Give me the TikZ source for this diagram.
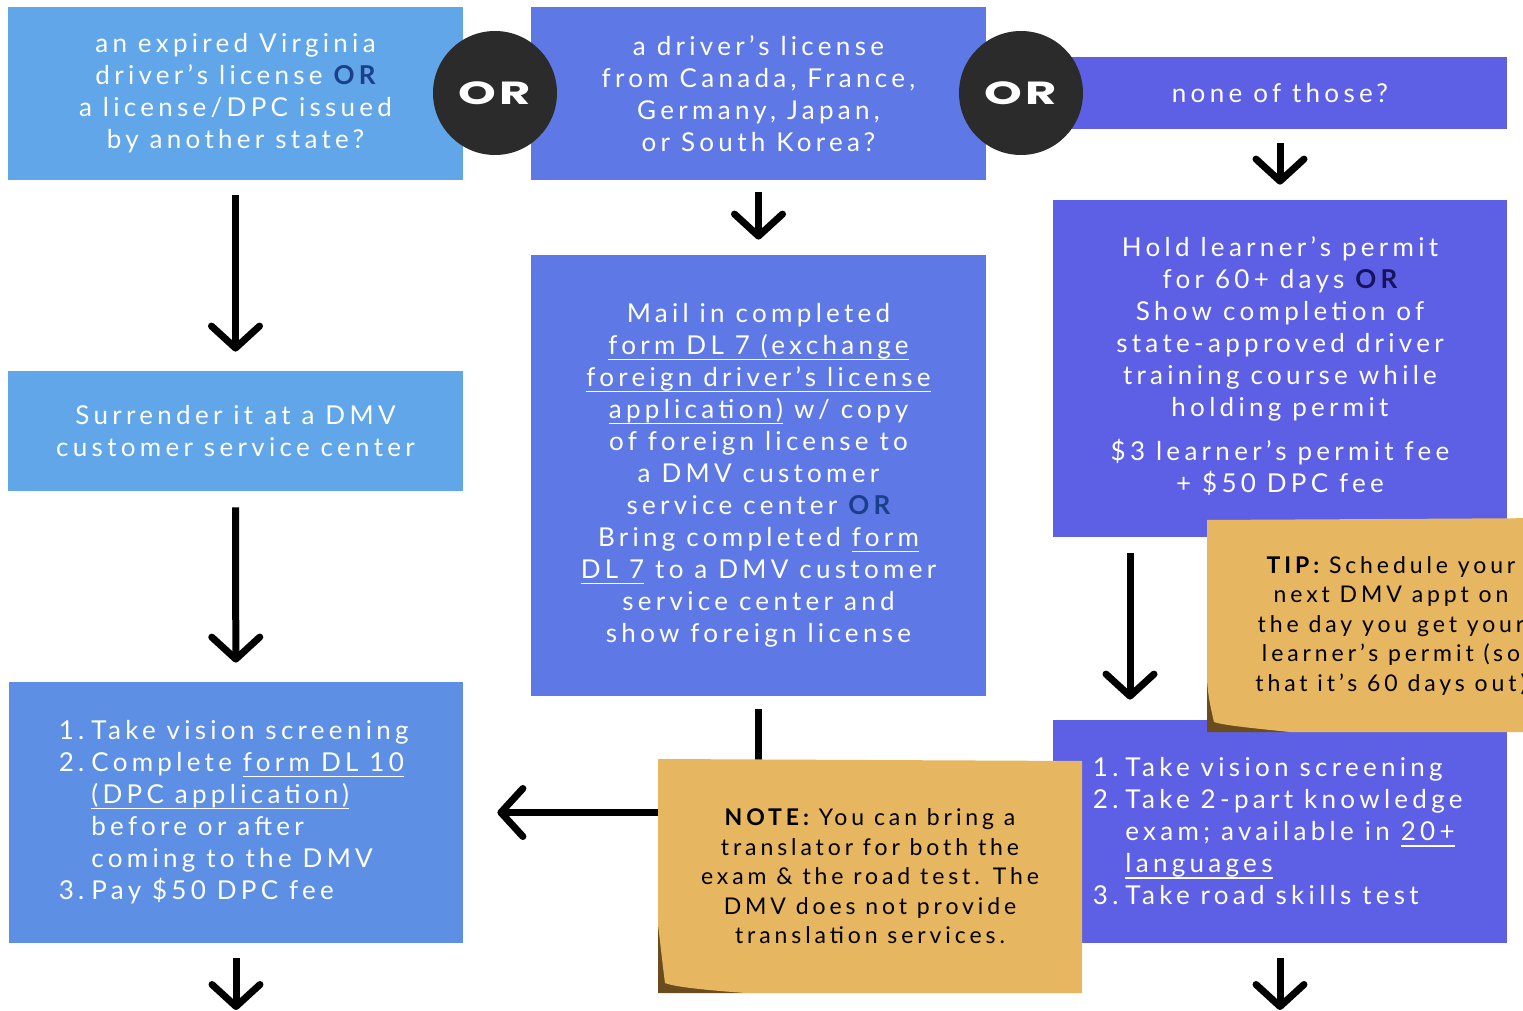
\documentclass[tikz,border=0pt]{standalone}
\usepackage{fontspec}
\setmainfont{Lato}[LetterSpace=16.5]
\newfontfamily\orfont{Poppins}[LetterSpace=10,FakeStretch=1.5]
\newsavebox\ulbox
\newcommand\uline[1]{\sbox\ulbox{#1}\rlap{\rule[-2.8pt]{\wd\ulbox}{0.8pt}}\usebox\ulbox}
\usetikzlibrary{arrows.meta}
\definecolor{lb}{HTML}{61A6E8}
\definecolor{lbb}{HTML}{5D8FE5}
\definecolor{mb}{HTML}{5E79E6}
\definecolor{rb}{HTML}{5D60E5}
\definecolor{notec}{HTML}{E6B660}
\definecolor{foldc}{HTML}{6B4C1E}
\definecolor{circc}{HTML}{2B2B2B}
\definecolor{orblue}{HTML}{1B3F8B}
\definecolor{ornavy}{HTML}{15145C}
\newcommand\orb{{\bfseries\color{orblue}OR}}
\newcommand\orn{{\bfseries\color{ornavy}OR}}
\newcommand\numb[1]{\makebox[14pt][r]{#1\hspace{3.5pt}}}
\begin{document}
\begin{tikzpicture}[x=0.5pt,y=-0.5pt,
  box/.style={inner sep=0pt, text=white, align=center,
    font=\fontsize{13}{16}\selectfont},
  circ/.style={circle, fill=circc, minimum size=62pt, inner sep=0pt, text=white,
    font=\orfont\bfseries\fontsize{16}{18}\selectfont},
  arr/.style={line width=3.5pt, -{Straight Barb[round,length=11pt,width=24pt]}},
  notetxt/.style={inner sep=0pt, align=center, text=black,
    font=\fontsize{11.5}{14.75}\selectfont\addfontfeatures{LetterSpace=17}}]
\useasboundingbox (0,0) rectangle (1523,1011);
\fill[white] (0,0) rectangle (1523,1011);

% boxes
\node[box, fill=lb, minimum width=227.5pt, minimum height=86.5pt] (q1) at (235.5,93.5)
  {an expired Virginia\\ driver's license \orb\\ a license/DPC issued\\ by another state?};
\node[box, fill=mb, minimum width=227.5pt, minimum height=86.5pt] (q2) at (758.5,93.5)
  {a driver's license\\ from Canada, France,\\ Germany, Japan,\\ or South Korea?};
\node[box, fill=rb, minimum width=227pt, minimum height=36pt] (q3) at (1280,93)
  {none of those?};
\node[box, fill=lb, minimum width=227.5pt, minimum height=60pt] (s1) at (235.5,431)
  {Surrender it at a DMV\\ customer service center};
\node[box, fill=lbb, minimum width=227pt, minimum height=130.5pt, align=left] (l1) at (236,812.5)
  {\numb{1.}Take vision screening\\
   \numb{2.}Complete \uline{form DL 10}\\
   \hspace*{14pt}\uline{(DPC application)}\\
   \hspace*{14pt}before or after\\
   \hspace*{14pt}coming to the DMV\\
   \numb{3.}Pay \$50 DPC fee};
\node[box, fill=mb, minimum width=227.5pt, minimum height=220.5pt] (m1) at (758.5,475.5)
  {Mail in completed\\
   \uline{form DL 7 (exchange}\\
   \uline{foreign driver's license}\\
   \uline{application)} w/ copy\\
   of foreign license to\\
   a DMV customer\\
   service center \orb\\
   Bring completed \uline{form}\\
   \uline{DL 7} to a DMV customer\\
   service center and\\
   show foreign license};
\node[box, fill=rb, minimum width=227pt, minimum height=168.5pt] (r1) at (1280,368.5)
  {Hold learner's permit\\ for 60+ days \orn\\ Show completion of\\ state-approved driver\\
   training course while\\ holding permit\\[6pt]
   \$3 learner's permit fee\\ + \$50 DPC fee\\[-12pt]\mbox{}};
\node[box, fill=rb, minimum width=227pt, minimum height=111.5pt, align=left] (r2) at (1280,831.5)
  {\numb{1.}Take vision screening\\
   \numb{2.}Take 2-part knowledge\\
   \hspace*{14pt}exam; available in \uline{20+}\\
   \hspace*{14pt}\uline{languages}\\
   \numb{3.}Take road skills test};

% free ends
\coordinate (e1) at (236,1010);
\coordinate (e2) at (1280,1010);

% arrows
\draw[arr, shorten <=7.5pt, shorten >=9.5pt] (q1) -- (s1);
\draw[arr, shorten <=8pt, shorten >=9.5pt] (s1) -- (l1);
\draw[arr, shorten <=7.5pt] (l1) -- (e1);
\draw[arr, shorten <=6pt, shorten >=7.5pt] (q2) -- (m1);
\draw[arr, shorten <=6.5pt, shorten >=17pt] (m1.south) |- (l1.east);
\draw[arr, shorten <=7pt, shorten >=7.5pt] (q3) -- (r1);
\draw[arr, shorten <=8pt, shorten >=10pt] ([xshift=-75pt]r1.south) -- ([xshift=-75pt]r2.north);
\draw[arr, shorten <=7.5pt] (r2) -- (e2);

% OR circles
\node[circ] (or1) at (495,93) {OR};
\node[circ] (or2) at (1021,93) {OR};

% TIP note
\fill[foldc] (1207,680) -- (1207,732) -- (1290,732) -- cycle;
\fill[notec] (1207,520) -- (1560,518) -- (1560,732) -- (1290,732)
  .. controls (1250,728) and (1222,725) .. (1214,722)
  .. controls (1210,705) and (1208,695) .. (1207,680) -- cycle;
\node[notetxt] (tip) at (1391,626)
  {{\bfseries TIP:} Schedule your\\ next DMV appt on\\ the day you get your\\
   learner's permit (so\\ that it's 60 days out)};

% NOTE note
\fill[foldc] (658,925) -- (658,993) -- (745,993) -- cycle;
\fill[notec] (658,759) -- (1082,761) -- (1082,993) -- (745,993)
  .. controls (705,990) and (675,987) .. (665,983)
  .. controls (662,960) and (660,940) .. (658,925) -- cycle;
\node[notetxt] (note) at (870,876.5)
  {{\bfseries NOTE:} You can bring a\\ translator for both the\\ exam \& the road test. The\\
   DMV does not provide\\ translation services.};
\end{tikzpicture}
\end{document}
